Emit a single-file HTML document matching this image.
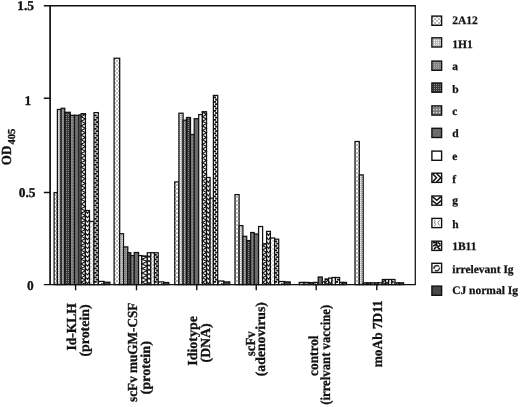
<!DOCTYPE html>
<html><head><meta charset="utf-8"><title>OD405 chart</title>
<style>
html,body{margin:0;padding:0;background:#fff;}
body{width:520px;height:407px;overflow:hidden;}
svg{display:block;}
text{text-rendering:geometricPrecision;font-family:"Liberation Serif","Times New Roman",serif;font-weight:bold;fill:#111;}
</style></head><body>
<svg width="520" height="407" viewBox="0 0 520 407">
<defs>

<pattern id="p0" width="4" height="4" patternUnits="userSpaceOnUse"><rect width="4" height="4" fill="#fff"/><rect x="0.4" y="0.4" width="1.2" height="1.2" fill="#444"/><rect x="2.4" y="2.4" width="1.2" height="1.2" fill="#444"/></pattern>
<pattern id="p1" width="2" height="2" patternUnits="userSpaceOnUse"><rect width="2" height="2" fill="#b8b8b8"/><rect x="0" y="0" width="1" height="1" fill="#fafafa"/></pattern>
<pattern id="p2" width="2" height="2" patternUnits="userSpaceOnUse"><rect width="2" height="2" fill="#868686"/><rect x="0" y="0" width="1" height="1" fill="#a8a8a8"/></pattern>
<pattern id="p3" width="2" height="2" patternUnits="userSpaceOnUse"><rect width="2" height="2" fill="#3a3a3a"/><rect x="0" y="0" width="1" height="1" fill="#8a8a8a"/></pattern>
<pattern id="p4" width="3" height="3" patternUnits="userSpaceOnUse"><rect width="3" height="3" fill="#808080"/><rect x="1" y="1" width="1.2" height="1.2" fill="#e0e0e0"/></pattern>
<pattern id="p7" width="6" height="4.6" patternUnits="userSpaceOnUse"><rect width="6" height="4.6" fill="#fff"/><path d="M6,0 L1,2.3 L6,4.6" stroke="#111" stroke-width="1.2" fill="none"/></pattern>
<pattern id="p8" width="4.2" height="4.6" patternUnits="userSpaceOnUse"><rect width="4.2" height="4.6" fill="#fff"/><path d="M0,0 L3.4,2.3 L0,4.6" stroke="#111" stroke-width="1.2" fill="none"/></pattern>
<pattern id="p9" width="4" height="4" patternUnits="userSpaceOnUse"><rect width="4" height="4" fill="#fff"/><rect x="0.5" y="0.5" width="1" height="1" fill="#666"/><rect x="2.5" y="2.5" width="1" height="1" fill="#666"/></pattern>
<pattern id="p10" width="4.5" height="4.5" patternUnits="userSpaceOnUse"><rect width="4.5" height="4.5" fill="#222"/><rect x="1" y="0.3" width="2.2" height="2" fill="#fff"/><rect x="3.2" y="2.6" width="1.3" height="1.6" fill="#fff"/><rect x="0" y="2.6" width="0.9" height="1.6" fill="#fff"/></pattern>
<pattern id="p11" width="5" height="5" patternUnits="userSpaceOnUse"><rect width="5" height="5" fill="#fff"/><path d="M1,1 Q4,0 4,3 Q2,5 1,3" stroke="#333" stroke-width="1" fill="none"/></pattern>

</defs>
<rect width="520" height="407" fill="#fff"/>
<g stroke="#111" stroke-width="1.25">
<rect x="54.10" y="192.60" width="3.30" height="92.00" fill="url(#p0)"/>
<rect x="57.40" y="109.50" width="3.70" height="175.10" fill="url(#p1)"/>
<rect x="61.10" y="108.30" width="3.70" height="176.30" fill="url(#p2)"/>
<rect x="64.80" y="112.30" width="5.50" height="172.30" fill="url(#p3)"/>
<rect x="70.30" y="115.30" width="4.10" height="169.30" fill="url(#p4)"/>
<rect x="74.40" y="115.30" width="4.70" height="169.30" fill="#6c6c6c"/>
<rect x="79.10" y="115.00" width="2.00" height="169.60" fill="#fff"/>
<rect x="81.10" y="113.70" width="4.30" height="170.90" fill="#fff"/>
<path d="M85.40,284.60 L81.10,282.30 L85.40,280.00 L81.10,277.70 L85.40,275.40 L81.10,273.10 L85.40,270.80 L81.10,268.50 L85.40,266.20 L81.10,263.90 L85.40,261.60 L81.10,259.30 L85.40,257.00 L81.10,254.70 L85.40,252.40 L81.10,250.10 L85.40,247.80 L81.10,245.50 L85.40,243.20 L81.10,240.90 L85.40,238.60 L81.10,236.30 L85.40,234.00 L81.10,231.70 L85.40,229.40 L81.10,227.10 L85.40,224.80 L81.10,222.50 L85.40,220.20 L81.10,217.90 L85.40,215.60 L81.10,213.30 L85.40,211.00 L81.10,208.70 L85.40,206.40 L81.10,204.10 L85.40,201.80 L81.10,199.50 L85.40,197.20 L81.10,194.90 L85.40,192.60 L81.10,190.30 L85.40,188.00 L81.10,185.70 L85.40,183.40 L81.10,181.10 L85.40,178.80 L81.10,176.50 L85.40,174.20 L81.10,171.90 L85.40,169.60 L81.10,167.30 L85.40,165.00 L81.10,162.70 L85.40,160.40 L81.10,158.10 L85.40,155.80 L81.10,153.50 L85.40,151.20 L81.10,148.90 L85.40,146.60 L81.10,144.30 L85.40,142.00 L81.10,139.70 L85.40,137.40 L81.10,135.10 L85.40,132.80 L81.10,130.50 L85.40,128.20 L81.10,125.90 L85.40,123.60 L81.10,121.30 L85.40,119.00 L81.10,116.70 L85.40,114.40 L81.10,113.70" fill="none" stroke-width="1.1"/>
<rect x="85.40" y="210.50" width="4.10" height="74.10" fill="#fff"/>
<path d="M85.40,281.30 L87.45,283.72 L89.50,281.30 M85.40,276.90 L87.45,279.32 L89.50,276.90 M85.40,272.50 L87.45,274.92 L89.50,272.50 M85.40,268.10 L87.45,270.52 L89.50,268.10 M85.40,263.70 L87.45,266.12 L89.50,263.70 M85.40,259.30 L87.45,261.72 L89.50,259.30 M85.40,254.90 L87.45,257.32 L89.50,254.90 M85.40,250.50 L87.45,252.92 L89.50,250.50 M85.40,246.10 L87.45,248.52 L89.50,246.10 M85.40,241.70 L87.45,244.12 L89.50,241.70 M85.40,237.30 L87.45,239.72 L89.50,237.30 M85.40,232.90 L87.45,235.32 L89.50,232.90 M85.40,228.50 L87.45,230.92 L89.50,228.50 M85.40,224.10 L87.45,226.52 L89.50,224.10 M85.40,219.70 L87.45,222.12 L89.50,219.70 M85.40,215.30 L87.45,217.72 L89.50,215.30 M85.40,210.90 L87.45,213.32 L89.50,210.90 " fill="none" stroke-width="1.1"/>
<rect x="89.50" y="221.40" width="4.50" height="63.20" fill="url(#p9)"/>
<rect x="94.00" y="112.60" width="4.30" height="172.00" fill="#fff"/>
<path d="M94.00,281.90 H96.67 M98.30,279.65 H95.63 M94.00,277.40 H96.67 M98.30,275.15 H95.63 M94.00,272.90 H96.67 M98.30,270.65 H95.63 M94.00,268.40 H96.67 M98.30,266.15 H95.63 M94.00,263.90 H96.67 M98.30,261.65 H95.63 M94.00,259.40 H96.67 M98.30,257.15 H95.63 M94.00,254.90 H96.67 M98.30,252.65 H95.63 M94.00,250.40 H96.67 M98.30,248.15 H95.63 M94.00,245.90 H96.67 M98.30,243.65 H95.63 M94.00,241.40 H96.67 M98.30,239.15 H95.63 M94.00,236.90 H96.67 M98.30,234.65 H95.63 M94.00,232.40 H96.67 M98.30,230.15 H95.63 M94.00,227.90 H96.67 M98.30,225.65 H95.63 M94.00,223.40 H96.67 M98.30,221.15 H95.63 M94.00,218.90 H96.67 M98.30,216.65 H95.63 M94.00,214.40 H96.67 M98.30,212.15 H95.63 M94.00,209.90 H96.67 M98.30,207.65 H95.63 M94.00,205.40 H96.67 M98.30,203.15 H95.63 M94.00,200.90 H96.67 M98.30,198.65 H95.63 M94.00,196.40 H96.67 M98.30,194.15 H95.63 M94.00,191.90 H96.67 M98.30,189.65 H95.63 M94.00,187.40 H96.67 M98.30,185.15 H95.63 M94.00,182.90 H96.67 M98.30,180.65 H95.63 M94.00,178.40 H96.67 M98.30,176.15 H95.63 M94.00,173.90 H96.67 M98.30,171.65 H95.63 M94.00,169.40 H96.67 M98.30,167.15 H95.63 M94.00,164.90 H96.67 M98.30,162.65 H95.63 M94.00,160.40 H96.67 M98.30,158.15 H95.63 M94.00,155.90 H96.67 M98.30,153.65 H95.63 M94.00,151.40 H96.67 M98.30,149.15 H95.63 M94.00,146.90 H96.67 M98.30,144.65 H95.63 M94.00,142.40 H96.67 M98.30,140.15 H95.63 M94.00,137.90 H96.67 M98.30,135.65 H95.63 M94.00,133.40 H96.67 M98.30,131.15 H95.63 M94.00,128.90 H96.67 M98.30,126.65 H95.63 M94.00,124.40 H96.67 M98.30,122.15 H95.63 M94.00,119.90 H96.67 M98.30,117.65 H95.63 M94.00,115.40 H96.67 " fill="none" stroke-width="1.6"/>
<rect x="98.30" y="281.40" width="5.70" height="3.20" fill="url(#p11)"/>
<rect x="104.00" y="282.20" width="5.90" height="2.40" fill="#484848"/>
<rect x="114.10" y="58.20" width="5.60" height="226.40" fill="url(#p0)"/>
<rect x="119.70" y="233.70" width="3.80" height="50.90" fill="url(#p1)"/>
<rect x="123.50" y="246.90" width="4.30" height="37.70" fill="url(#p2)"/>
<rect x="127.80" y="252.75" width="3.00" height="31.85" fill="url(#p3)"/>
<rect x="130.80" y="255.60" width="3.40" height="29.00" fill="url(#p4)"/>
<rect x="134.20" y="252.50" width="4.40" height="32.10" fill="#6c6c6c"/>
<rect x="138.60" y="255.60" width="3.20" height="29.00" fill="#fff"/>
<rect x="141.80" y="256.00" width="5.50" height="28.60" fill="#fff"/>
<path d="M147.30,284.60 L141.80,282.30 L147.30,280.00 L141.80,277.70 L147.30,275.40 L141.80,273.10 L147.30,270.80 L141.80,268.50 L147.30,266.20 L141.80,263.90 L147.30,261.60 L141.80,259.30 L147.30,257.00 L141.80,256.00" fill="none" stroke-width="1.1"/>
<rect x="147.30" y="252.75" width="3.50" height="31.85" fill="#fff"/>
<path d="M147.30,281.30 L149.05,283.72 L150.80,281.30 M147.30,276.90 L149.05,279.32 L150.80,276.90 M147.30,272.50 L149.05,274.92 L150.80,272.50 M147.30,268.10 L149.05,270.52 L150.80,268.10 M147.30,263.70 L149.05,266.12 L150.80,263.70 M147.30,259.30 L149.05,261.72 L150.80,259.30 M147.30,254.90 L149.05,257.32 L150.80,254.90 " fill="none" stroke-width="1.1"/>
<rect x="150.80" y="252.75" width="3.70" height="31.85" fill="url(#p9)"/>
<rect x="154.50" y="252.75" width="3.70" height="31.85" fill="#fff"/>
<path d="M154.50,281.90 H156.79 M158.20,279.65 H155.91 M154.50,277.40 H156.79 M158.20,275.15 H155.91 M154.50,272.90 H156.79 M158.20,270.65 H155.91 M154.50,268.40 H156.79 M158.20,266.15 H155.91 M154.50,263.90 H156.79 M158.20,261.65 H155.91 M154.50,259.40 H156.79 M158.20,257.15 H155.91 M154.50,254.90 H156.79 " fill="none" stroke-width="1.6"/>
<rect x="158.20" y="281.90" width="5.40" height="2.70" fill="url(#p11)"/>
<rect x="163.60" y="282.50" width="5.20" height="2.10" fill="#484848"/>
<rect x="174.75" y="181.90" width="4.15" height="102.70" fill="url(#p0)"/>
<rect x="178.90" y="113.20" width="4.20" height="171.40" fill="url(#p1)"/>
<rect x="183.10" y="120.20" width="3.40" height="164.40" fill="url(#p2)"/>
<rect x="186.50" y="117.50" width="4.00" height="167.10" fill="url(#p3)"/>
<rect x="190.50" y="134.50" width="3.70" height="150.10" fill="url(#p4)"/>
<rect x="194.20" y="118.70" width="4.50" height="165.90" fill="#6c6c6c"/>
<rect x="198.70" y="114.60" width="3.70" height="170.00" fill="#fff"/>
<rect x="202.40" y="111.80" width="4.10" height="172.80" fill="#fff"/>
<path d="M206.50,284.60 L202.40,282.30 L206.50,280.00 L202.40,277.70 L206.50,275.40 L202.40,273.10 L206.50,270.80 L202.40,268.50 L206.50,266.20 L202.40,263.90 L206.50,261.60 L202.40,259.30 L206.50,257.00 L202.40,254.70 L206.50,252.40 L202.40,250.10 L206.50,247.80 L202.40,245.50 L206.50,243.20 L202.40,240.90 L206.50,238.60 L202.40,236.30 L206.50,234.00 L202.40,231.70 L206.50,229.40 L202.40,227.10 L206.50,224.80 L202.40,222.50 L206.50,220.20 L202.40,217.90 L206.50,215.60 L202.40,213.30 L206.50,211.00 L202.40,208.70 L206.50,206.40 L202.40,204.10 L206.50,201.80 L202.40,199.50 L206.50,197.20 L202.40,194.90 L206.50,192.60 L202.40,190.30 L206.50,188.00 L202.40,185.70 L206.50,183.40 L202.40,181.10 L206.50,178.80 L202.40,176.50 L206.50,174.20 L202.40,171.90 L206.50,169.60 L202.40,167.30 L206.50,165.00 L202.40,162.70 L206.50,160.40 L202.40,158.10 L206.50,155.80 L202.40,153.50 L206.50,151.20 L202.40,148.90 L206.50,146.60 L202.40,144.30 L206.50,142.00 L202.40,139.70 L206.50,137.40 L202.40,135.10 L206.50,132.80 L202.40,130.50 L206.50,128.20 L202.40,125.90 L206.50,123.60 L202.40,121.30 L206.50,119.00 L202.40,116.70 L206.50,114.40 L202.40,112.10 L206.50,111.80" fill="none" stroke-width="1.1"/>
<rect x="206.50" y="177.50" width="3.60" height="107.10" fill="#fff"/>
<path d="M206.50,281.30 L208.30,283.72 L210.10,281.30 M206.50,276.90 L208.30,279.32 L210.10,276.90 M206.50,272.50 L208.30,274.92 L210.10,272.50 M206.50,268.10 L208.30,270.52 L210.10,268.10 M206.50,263.70 L208.30,266.12 L210.10,263.70 M206.50,259.30 L208.30,261.72 L210.10,259.30 M206.50,254.90 L208.30,257.32 L210.10,254.90 M206.50,250.50 L208.30,252.92 L210.10,250.50 M206.50,246.10 L208.30,248.52 L210.10,246.10 M206.50,241.70 L208.30,244.12 L210.10,241.70 M206.50,237.30 L208.30,239.72 L210.10,237.30 M206.50,232.90 L208.30,235.32 L210.10,232.90 M206.50,228.50 L208.30,230.92 L210.10,228.50 M206.50,224.10 L208.30,226.52 L210.10,224.10 M206.50,219.70 L208.30,222.12 L210.10,219.70 M206.50,215.30 L208.30,217.72 L210.10,215.30 M206.50,210.90 L208.30,213.32 L210.10,210.90 M206.50,206.50 L208.30,208.92 L210.10,206.50 M206.50,202.10 L208.30,204.52 L210.10,202.10 M206.50,197.70 L208.30,200.12 L210.10,197.70 M206.50,193.30 L208.30,195.72 L210.10,193.30 M206.50,188.90 L208.30,191.32 L210.10,188.90 M206.50,184.50 L208.30,186.92 L210.10,184.50 M206.50,180.10 L208.30,182.52 L210.10,180.10 " fill="none" stroke-width="1.1"/>
<rect x="210.10" y="198.20" width="3.30" height="86.40" fill="url(#p9)"/>
<rect x="213.40" y="95.40" width="4.30" height="189.20" fill="#fff"/>
<path d="M213.40,281.90 H216.07 M217.70,279.65 H215.03 M213.40,277.40 H216.07 M217.70,275.15 H215.03 M213.40,272.90 H216.07 M217.70,270.65 H215.03 M213.40,268.40 H216.07 M217.70,266.15 H215.03 M213.40,263.90 H216.07 M217.70,261.65 H215.03 M213.40,259.40 H216.07 M217.70,257.15 H215.03 M213.40,254.90 H216.07 M217.70,252.65 H215.03 M213.40,250.40 H216.07 M217.70,248.15 H215.03 M213.40,245.90 H216.07 M217.70,243.65 H215.03 M213.40,241.40 H216.07 M217.70,239.15 H215.03 M213.40,236.90 H216.07 M217.70,234.65 H215.03 M213.40,232.40 H216.07 M217.70,230.15 H215.03 M213.40,227.90 H216.07 M217.70,225.65 H215.03 M213.40,223.40 H216.07 M217.70,221.15 H215.03 M213.40,218.90 H216.07 M217.70,216.65 H215.03 M213.40,214.40 H216.07 M217.70,212.15 H215.03 M213.40,209.90 H216.07 M217.70,207.65 H215.03 M213.40,205.40 H216.07 M217.70,203.15 H215.03 M213.40,200.90 H216.07 M217.70,198.65 H215.03 M213.40,196.40 H216.07 M217.70,194.15 H215.03 M213.40,191.90 H216.07 M217.70,189.65 H215.03 M213.40,187.40 H216.07 M217.70,185.15 H215.03 M213.40,182.90 H216.07 M217.70,180.65 H215.03 M213.40,178.40 H216.07 M217.70,176.15 H215.03 M213.40,173.90 H216.07 M217.70,171.65 H215.03 M213.40,169.40 H216.07 M217.70,167.15 H215.03 M213.40,164.90 H216.07 M217.70,162.65 H215.03 M213.40,160.40 H216.07 M217.70,158.15 H215.03 M213.40,155.90 H216.07 M217.70,153.65 H215.03 M213.40,151.40 H216.07 M217.70,149.15 H215.03 M213.40,146.90 H216.07 M217.70,144.65 H215.03 M213.40,142.40 H216.07 M217.70,140.15 H215.03 M213.40,137.90 H216.07 M217.70,135.65 H215.03 M213.40,133.40 H216.07 M217.70,131.15 H215.03 M213.40,128.90 H216.07 M217.70,126.65 H215.03 M213.40,124.40 H216.07 M217.70,122.15 H215.03 M213.40,119.90 H216.07 M217.70,117.65 H215.03 M213.40,115.40 H216.07 M217.70,113.15 H215.03 M213.40,110.90 H216.07 M217.70,108.65 H215.03 M213.40,106.40 H216.07 M217.70,104.15 H215.03 M213.40,101.90 H216.07 M217.70,99.65 H215.03 M213.40,97.40 H216.07 " fill="none" stroke-width="1.6"/>
<rect x="217.70" y="281.00" width="6.10" height="3.60" fill="url(#p11)"/>
<rect x="223.80" y="281.90" width="5.95" height="2.70" fill="#484848"/>
<rect x="235.00" y="194.60" width="4.10" height="90.00" fill="url(#p0)"/>
<rect x="239.10" y="225.60" width="3.80" height="59.00" fill="url(#p1)"/>
<rect x="242.90" y="236.30" width="3.80" height="48.30" fill="url(#p2)"/>
<rect x="246.70" y="240.60" width="4.00" height="44.00" fill="url(#p3)"/>
<rect x="250.70" y="232.50" width="3.50" height="52.10" fill="url(#p4)"/>
<rect x="254.20" y="234.00" width="4.40" height="50.60" fill="#6c6c6c"/>
<rect x="258.60" y="226.50" width="4.00" height="58.10" fill="#fff"/>
<rect x="262.60" y="243.80" width="4.00" height="40.80" fill="#fff"/>
<path d="M266.60,284.60 L262.60,282.30 L266.60,280.00 L262.60,277.70 L266.60,275.40 L262.60,273.10 L266.60,270.80 L262.60,268.50 L266.60,266.20 L262.60,263.90 L266.60,261.60 L262.60,259.30 L266.60,257.00 L262.60,254.70 L266.60,252.40 L262.60,250.10 L266.60,247.80 L262.60,245.50 L266.60,243.80" fill="none" stroke-width="1.1"/>
<rect x="266.60" y="231.40" width="3.80" height="53.20" fill="#fff"/>
<path d="M266.60,281.30 L268.50,283.72 L270.40,281.30 M266.60,276.90 L268.50,279.32 L270.40,276.90 M266.60,272.50 L268.50,274.92 L270.40,272.50 M266.60,268.10 L268.50,270.52 L270.40,268.10 M266.60,263.70 L268.50,266.12 L270.40,263.70 M266.60,259.30 L268.50,261.72 L270.40,259.30 M266.60,254.90 L268.50,257.32 L270.40,254.90 M266.60,250.50 L268.50,252.92 L270.40,250.50 M266.60,246.10 L268.50,248.52 L270.40,246.10 M266.60,241.70 L268.50,244.12 L270.40,241.70 M266.60,237.30 L268.50,239.72 L270.40,237.30 M266.60,232.90 L268.50,235.32 L270.40,232.90 " fill="none" stroke-width="1.1"/>
<rect x="270.40" y="238.00" width="4.30" height="46.60" fill="url(#p9)"/>
<rect x="274.70" y="239.20" width="4.00" height="45.40" fill="#fff"/>
<path d="M274.70,281.90 H277.18 M278.70,279.65 H276.22 M274.70,277.40 H277.18 M278.70,275.15 H276.22 M274.70,272.90 H277.18 M278.70,270.65 H276.22 M274.70,268.40 H277.18 M278.70,266.15 H276.22 M274.70,263.90 H277.18 M278.70,261.65 H276.22 M274.70,259.40 H277.18 M278.70,257.15 H276.22 M274.70,254.90 H277.18 M278.70,252.65 H276.22 M274.70,250.40 H277.18 M278.70,248.15 H276.22 M274.70,245.90 H277.18 M278.70,243.65 H276.22 M274.70,241.40 H277.18 " fill="none" stroke-width="1.6"/>
<rect x="278.70" y="281.50" width="5.90" height="3.10" fill="url(#p11)"/>
<rect x="284.60" y="281.90" width="5.60" height="2.70" fill="#484848"/>
<rect x="299.20" y="282.40" width="4.80" height="2.20" fill="url(#p1)"/>
<rect x="304.00" y="282.40" width="4.70" height="2.20" fill="url(#p2)"/>
<rect x="308.70" y="282.60" width="4.80" height="2.00" fill="url(#p3)"/>
<rect x="313.50" y="282.40" width="4.70" height="2.20" fill="url(#p4)"/>
<rect x="318.20" y="277.00" width="4.10" height="7.60" fill="#6c6c6c"/>
<rect x="322.30" y="281.80" width="2.80" height="2.80" fill="#fff"/>
<rect x="325.10" y="279.00" width="3.50" height="5.60" fill="#fff"/>
<path d="M328.60,284.60 L325.10,282.30 L328.60,280.00 L325.10,279.00" fill="none" stroke-width="1.1"/>
<rect x="328.60" y="278.10" width="3.40" height="6.50" fill="#fff"/>
<path d="M328.60,281.30 L330.30,283.72 L332.00,281.30 " fill="none" stroke-width="1.1"/>
<rect x="332.00" y="277.50" width="3.50" height="7.10" fill="url(#p9)"/>
<rect x="335.50" y="277.50" width="4.10" height="7.10" fill="#fff"/>
<path d="M335.50,281.90 H338.04 M339.60,279.65 H337.06 " fill="none" stroke-width="1.6"/>
<rect x="339.60" y="282.40" width="3.40" height="2.20" fill="url(#p11)"/>
<rect x="343.00" y="282.40" width="3.50" height="2.20" fill="#484848"/>
<rect x="355.00" y="141.50" width="4.30" height="143.10" fill="url(#p0)"/>
<rect x="359.30" y="174.90" width="3.90" height="109.70" fill="url(#p1)"/>
<rect x="363.20" y="282.80" width="3.80" height="1.80" fill="url(#p2)"/>
<rect x="367.00" y="282.80" width="3.80" height="1.80" fill="url(#p3)"/>
<rect x="370.80" y="282.80" width="3.80" height="1.80" fill="url(#p4)"/>
<rect x="374.60" y="282.80" width="3.80" height="1.80" fill="#6c6c6c"/>
<rect x="378.40" y="282.80" width="3.90" height="1.80" fill="#fff"/>
<rect x="382.30" y="279.50" width="3.20" height="5.10" fill="#fff"/>
<path d="M385.50,284.60 L382.30,282.30 L385.50,280.00 L382.30,279.50" fill="none" stroke-width="1.1"/>
<rect x="385.50" y="279.50" width="3.10" height="5.10" fill="#fff"/>
<path d="M385.50,281.30 L387.05,283.72 L388.60,281.30 " fill="none" stroke-width="1.1"/>
<rect x="388.60" y="279.50" width="3.20" height="5.10" fill="url(#p9)"/>
<rect x="391.80" y="279.50" width="3.20" height="5.10" fill="#fff"/>
<path d="M391.80,281.90 H393.78 " fill="none" stroke-width="1.6"/>
<rect x="395.00" y="282.80" width="4.30" height="1.80" fill="url(#p11)"/>
<rect x="399.30" y="282.80" width="4.30" height="1.80" fill="#484848"/>
</g>
<g stroke="#111" fill="none">
<path d="M50.1,284.6 V5.0" stroke-width="1.7"/>
<path d="M43.8,5.7 H415.9" stroke-width="1.4"/>
<path d="M415.3,5.7 V284.6" stroke-width="1.25"/>
<path d="M43.8,284.6 H415.9" stroke-width="1.4"/>
<path d="M43.8,98.2 H50.4 M43.8,192.4 H50.4" stroke-width="1.5"/>
<path d="M75.6,284.6 V290.3" stroke-width="1.4"/>
<path d="M136.5,284.6 V290.3" stroke-width="1.4"/>
<path d="M196.75,284.6 V290.3" stroke-width="1.4"/>
<path d="M256.25,284.6 V290.3" stroke-width="1.4"/>
<path d="M316.2,284.6 V290.3" stroke-width="1.4"/>
<path d="M376.8,284.6 V290.3" stroke-width="1.4"/>
</g>
<g font-size="13.4px" text-anchor="end" stroke="#111" stroke-width="0.3">
<text x="34.0" y="10.1">1.5</text>
<text x="31.2" y="105.0">1</text>
<text x="35.5" y="197.3">0.5</text>
<text x="33.8" y="289.5">0</text>
<text transform="translate(10.5,165.2) rotate(-90) scale(0.96,1.03)" font-size="13.5px" text-anchor="start">OD</text>
<text transform="translate(14.6,144.5) rotate(-90) scale(1.03,1.03)" font-size="10.3px" text-anchor="start">405</text>
</g>
<g font-size="13.8px" text-anchor="end" stroke="#111" stroke-width="0.3">
<text transform="translate(75.60,303.19) rotate(-90) scale(0.9772,1)">Id-KLH</text>
<text transform="translate(88.80,304.40) rotate(-90) scale(1.0053,1)">(protein)</text>
<text transform="translate(136.80,302.66) rotate(-90) scale(0.9554,1)">scFv muGM-CSF</text>
<text transform="translate(149.60,341.09) rotate(-90) scale(1.0310,1)">(protein)</text>
<text transform="translate(196.80,316.17) rotate(-90) scale(1.0098,1)">Idiotype</text>
<text transform="translate(209.90,323.31) rotate(-90) scale(1.0015,1)">(DNA)</text>
<text transform="translate(254.80,331.50) rotate(-90) scale(0.9200,1)">scFv</text>
<text transform="translate(265.20,302.11) rotate(-90) scale(0.9983,1)">(adenovirus)</text>
<text transform="translate(317.60,335.49) rotate(-90) scale(0.9641,1)">control</text>
<text transform="translate(329.80,304.75) rotate(-90) scale(0.9248,1)">(irrelvant vaccine)</text>
<text transform="translate(381.60,300.23) rotate(-90) scale(0.9661,1)">moAb 7D11</text>
</g>
<g font-size="11.5px" stroke="#111" stroke-width="0.25">
<rect x="431.9" y="16.1" width="9.7" height="9.2" fill="url(#p0)" stroke="#111" stroke-width="1.4"/>
<text x="452.2" y="24.4">2A12</text>
<rect x="431.9" y="37.800000000000004" width="9.7" height="9.2" fill="url(#p1)" stroke="#111" stroke-width="1.4"/>
<text x="452.2" y="47.6">1H1</text>
<rect x="431.9" y="61.1" width="9.7" height="9.2" fill="url(#p2)" stroke="#111" stroke-width="1.4"/>
<text x="452.2" y="69.6">a</text>
<rect x="431.9" y="83.0" width="9.7" height="9.2" fill="url(#p3)" stroke="#111" stroke-width="1.4"/>
<text x="452.2" y="92.5">b</text>
<rect x="431.9" y="105.89999999999999" width="9.7" height="9.2" fill="url(#p4)" stroke="#111" stroke-width="1.4"/>
<text x="452.2" y="114.9">c</text>
<rect x="431.9" y="128.3" width="9.7" height="9.2" fill="#6c6c6c" stroke="#111" stroke-width="1.4"/>
<text x="452.2" y="137.3">d</text>
<rect x="431.9" y="151.1" width="9.7" height="9.2" fill="#fff" stroke="#111" stroke-width="1.4"/>
<text x="452.2" y="159.7">e</text>
<rect x="431.9" y="173.2" width="9.7" height="9.2" fill="#fff" stroke="#111" stroke-width="1.4"/>
<path d="M432.4,173.5 L436.5,177.79999999999998 L432.4,182.1 M436.5,173.5 L440.79999999999995,177.79999999999998 L436.5,182.1" fill="none" stroke-width="1.5"/>
<text x="452.2" y="182.8">f</text>
<rect x="431.9" y="196.0" width="9.7" height="9.2" fill="#fff" stroke="#111" stroke-width="1.4"/>
<path d="M432.4,196.6 L436.75,200.4 L441.09999999999997,196.6 M432.4,200.6 L436.75,204.4 L441.09999999999997,200.6" fill="none" stroke-width="1.4"/>
<text x="452.2" y="204.1">g</text>
<rect x="431.9" y="218.4" width="9.7" height="9.2" fill="#fff" stroke="#111" stroke-width="1.4"/>
<path d="M433.9,220.4 q2.5,0.5 0.5,2.5 q2.5,1 0,3 M439.4,220.4 q-3,2.5 0,5" fill="none" stroke="#777" stroke-width="1"/>
<text x="452.2" y="227.5">h</text>
<rect x="431.9" y="241.2" width="9.7" height="9.2" fill="#fff" stroke="#111" stroke-width="1.4"/>
<path d="M432.9,242.7 h3 M437.9,242.39999999999998 l2.5,2 M436.7,241.7 v3.5 M433.09999999999997,246.2 l2.5,-1.5 l2.5,2 l2.5,-1.5 M433.9,249.2 l2.5,-2.5 M437.4,247.2 l3,2.5" fill="none" stroke-width="1.5"/>
<text x="452.2" y="250.4">1B11</text>
<rect x="431.9" y="263.3" width="9.7" height="9.2" fill="#fff" stroke="#111" stroke-width="1.4"/>
<path d="M434.09999999999997,268.8 a2.8,2.8 0 0 1 5,-2.2 M439.5,267.5 a2.8,2.8 0 0 1 -4.6,2.6" fill="none" stroke="#333" stroke-width="1.5"/>
<text x="452.2" y="272.9">irrelevant Ig</text>
<rect x="431.9" y="286.1" width="9.7" height="9.2" fill="#484848" stroke="#111" stroke-width="1.4"/>
<text x="452.2" y="294.2">CJ normal Ig</text>
</g>
</svg></body></html>
